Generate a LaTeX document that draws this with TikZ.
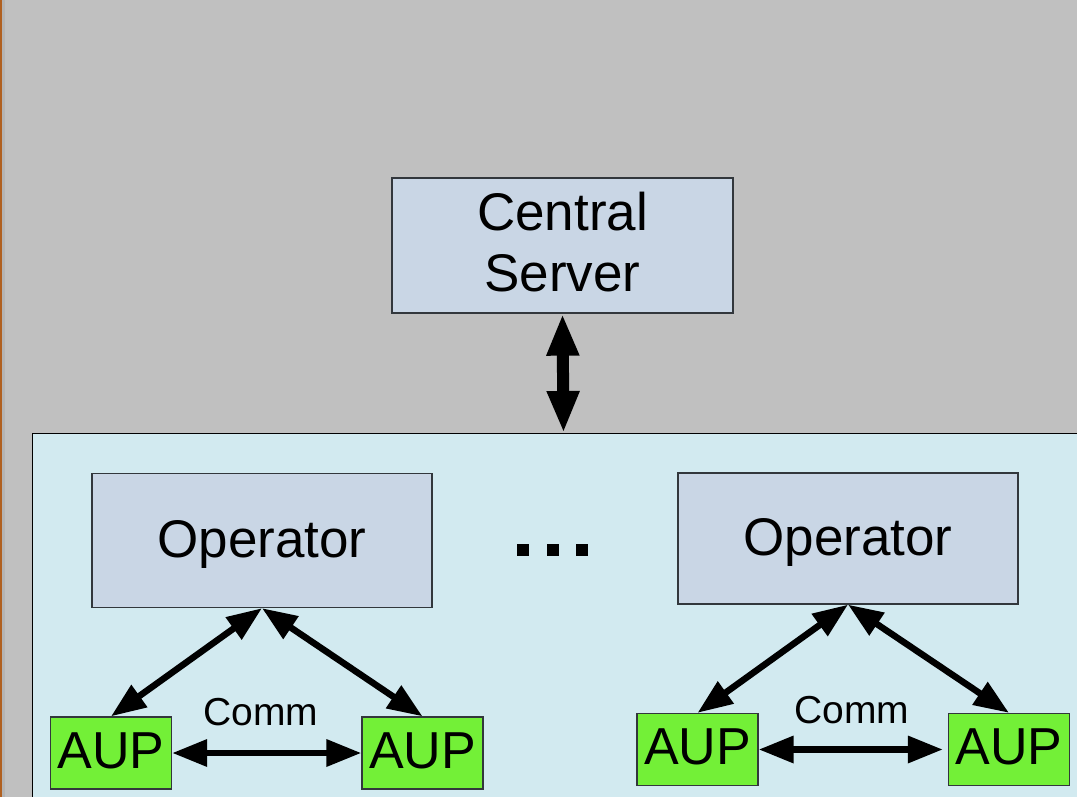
\documentclass[tikz,border=0pt]{standalone}
\usepackage{fontspec}
\setmainfont{Liberation Sans}
\usetikzlibrary{arrows.meta}

\definecolor{bggray}{RGB}{192,192,192}
\definecolor{edgeorange}{RGB}{176,96,32}
\definecolor{edgegray}{RGB}{180,180,180}
\definecolor{poolblue}{RGB}{210,234,240}
\definecolor{boxblue}{RGB}{201,214,229}
\definecolor{aupgreen}{RGB}{115,240,55}
\definecolor{boxline}{RGB}{50,55,60}

\tikzset{
  boxbase/.style={draw=boxline, line width=1.3pt, inner sep=0pt},
  bluebox/.style={boxbase, fill=boxblue, minimum width=340pt, minimum height=134pt,
    text height=40pt, text depth=7pt,
    font=\fontsize{53pt}{62pt}\selectfont},
  aupbox/.style={boxbase, fill=aupgreen, minimum width=121pt, minimum height=72pt,
    text height=37pt, text depth=7pt,
    font=\fontsize{52pt}{60pt}\selectfont},
  poolbox/.style={draw=black, line width=1pt, fill=poolblue, inner sep=0pt,
    minimum width=1062pt, minimum height=500pt},
  commlabel/.style={inner sep=0pt, font=\fontsize{39pt}{44pt}\selectfont},
  bigarrow/.style={line width=12pt,
    {Triangle[length=42pt,width=30pt]}-{Triangle[length=42pt,width=30pt]}},
  link/.style={line width=6.5pt,
    {Triangle[length=35pt,width=26pt]}-{Triangle[length=35pt,width=26pt]}},
}

\begin{document}
\begin{tikzpicture}[x=1pt,y=-1pt]
  \useasboundingbox (0,0) rectangle (1077,797);
  \clip (0,0) rectangle (1077,797);

  % backdrop
  \fill[bggray] (0,0) rectangle (1077,797);
  \fill[edgeorange] (0,0) rectangle (2,797);
  \fill[edgegray] (2,0) rectangle (5,797);

  % server
  \node[bluebox, minimum width=341pt, minimum height=135pt,
        text height=45pt, text depth=76pt] (server) at (562.5,245.5)
    {\begin{tabular}[t]{@{}c@{}}Central\\Server\end{tabular}};

  % operator pool
  \node[poolbox, anchor=north west] (pool) at (32,433) {};

  \node[bluebox] (op1) at (262,540.5) {Operator};
  \node[bluebox, minimum height=131pt] (op2) at (848,538.5) {Operator};

  \foreach \dx in {517,547,576}
    \fill (\dx,544) rectangle ++(12,12);

  \node[aupbox] (aup1) at (111,753) {AUP};
  \node[aupbox] (aup2) at (422.5,753) {AUP};
  \node[aupbox] (aup3) at (697.5,749.5) {AUP};
  \node[aupbox] (aup4) at (1009,749.5) {AUP};

  \node[commlabel, anchor=base] (comm1) at (261,725) {Comm};
  \node[commlabel, anchor=base] (comm2) at (852,723) {Comm};

  % links
  \draw[bigarrow] (server.south) -- (pool.north);

  \draw[link] (op1.south) -- (aup1.north);
  \draw[link] (op1.south) -- (aup2.north);
  \draw[link] (aup1.east) -- (aup2.west);

  \draw[link] (op2.south) -- (aup3.north);
  \draw[link] (op2.south) -- (aup4.north);
  \draw[link, shorten >=5pt] (aup3.east) -- (aup4.west);
\end{tikzpicture}
\end{document}
